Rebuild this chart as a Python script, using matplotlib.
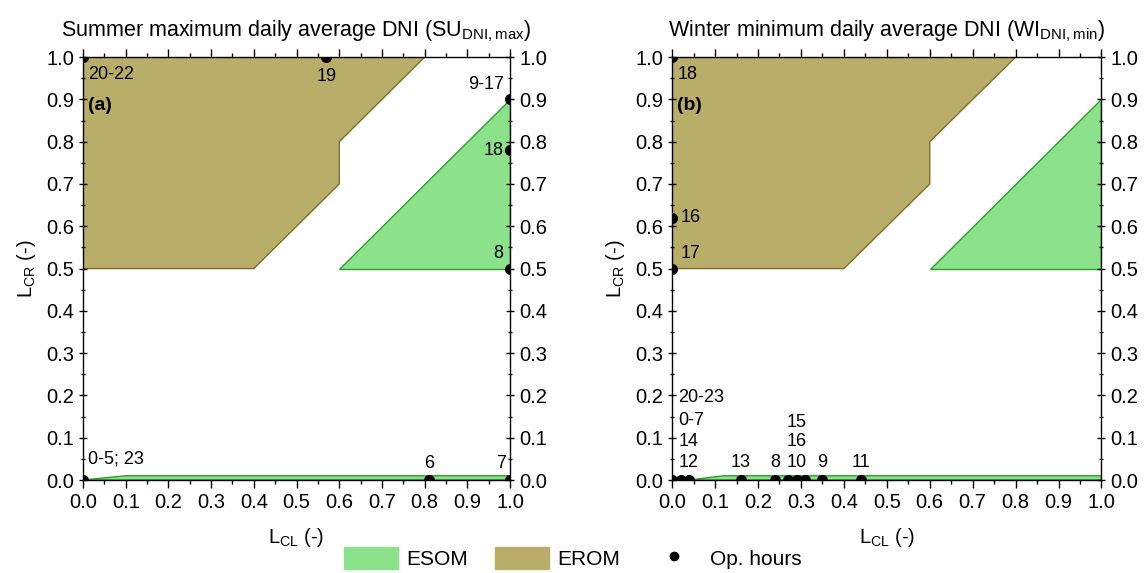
import matplotlib.pyplot as plt
from matplotlib.patches import Patch
from matplotlib.lines import Line2D

plt.rcParams['font.family'] = ['Liberation Sans', 'DejaVu Sans']
plt.rcParams['mathtext.fontset'] = 'custom'
plt.rcParams['mathtext.rm'] = 'Liberation Sans'

# operating regions (L_CL, L_CR)
erom_x = [0.0, 0.4, 0.6, 0.6, 0.8, 0.0]
erom_y = [0.5, 0.5, 0.7, 0.8, 1.0, 1.0]
esom_x = [0.6, 1.0, 1.0]
esom_y = [0.5, 0.5, 0.9]
strip_a_x = [0.0, 0.1, 1.0, 1.0]
strip_a_y = [0.0, 0.01, 0.01, 0.0]
strip_b_x = [0.04, 0.12, 1.0, 1.0]
strip_b_y = [0.0, 0.01, 0.01, 0.0]

# operating hours, summer
pts_a_x = [0.0, 0.57, 1.0, 1.0, 1.0, 0.0, 0.81, 1.0]
pts_a_y = [1.0, 1.0, 0.9, 0.78, 0.5, 0.0, 0.0, 0.0]
lab_a = ["20-22", "19", "9-17", "18", "8", "0-5; 23", "6", "7"]
lab_a_x = [0.012, 0.57, 0.985, 0.985, 0.985, 0.012, 0.81, 0.99]
lab_a_y = [0.96, 0.955, 0.935, 0.78, 0.535, 0.05, 0.04, 0.04]
lab_a_ha = ["left", "center", "right", "right", "right", "left", "center", "right"]

# operating hours, winter
pts_b_x = [0.0, 0.0, 0.0, 0.0, 0.02, 0.04, 0.16, 0.24, 0.27, 0.29, 0.31, 0.35, 0.44]
pts_b_y = [1.0, 0.62, 0.5, 0, 0, 0, 0, 0, 0, 0, 0, 0, 0]
lab_b = ["18", "16", "17", "20-23", "0-7", "14", "12", "13", "8", "15", "16", "10", "9", "11"]
lab_b_x = [0.012, 0.02, 0.02, 0.015, 0.015, 0.015, 0.015, 0.16, 0.24, 0.29, 0.29, 0.29, 0.35, 0.44]
lab_b_y = [0.96, 0.62, 0.535, 0.196, 0.14, 0.09, 0.042, 0.042, 0.042, 0.135, 0.09, 0.042, 0.042, 0.042]
lab_b_ha = ["left", "left", "left", "left", "left", "left", "left",
            "center", "center", "center", "center", "center", "center", "center"]

ESOM_C = "#8be28b"
ESOM_E = "#2e9e2e"
EROM_C = "#b9ae69"
EROM_E = "#7b6f2b"

fig = plt.figure(figsize=(11.45, 5.73), dpi=100)
ax_a = fig.add_axes([0.0725, 0.1623, 0.373, 0.738])
ax_b = fig.add_axes([0.587, 0.1623, 0.375, 0.738])


def draw(ax, title, tag, sx, sy, px, py, lx, ly, lt, lha):
    ax.fill(erom_x, erom_y, facecolor=EROM_C, edgecolor=EROM_E, lw=1, zorder=1)
    ax.fill(esom_x, esom_y, facecolor=ESOM_C, edgecolor=ESOM_E, lw=1, zorder=1)
    ax.fill(sx, sy, facecolor=ESOM_C, edgecolor=ESOM_E, lw=1, zorder=1)
    ax.plot(px, py, 'o', color='black', ms=7, ls='none', zorder=3)
    for x, y, t, h in zip(lx, ly, lt, lha):
        ax.text(x, y, t, ha=h, va='center', fontsize=13, zorder=4)
    ax.text(0.012, 0.885, tag, fontsize=14, fontweight='bold', va='center')
    ax.set_xlim(0, 1)
    ax.set_ylim(0, 1)
    ticks = [i / 10 for i in range(11)]
    ax.set_xticks(ticks)
    ax.set_yticks(ticks)
    ax.set_xticklabels([f"{t:.1f}" for t in ticks])
    ax.set_yticklabels([f"{t:.1f}" for t in ticks])
    ax.set_xticks([i / 20 for i in range(21)], minor=True)
    ax.set_yticks([i / 20 for i in range(21)], minor=True)
    ax.tick_params(which='both', top=True, right=True, labelright=True,
                   labelsize=14.5, width=1)
    ax.tick_params(which='major', length=6)
    ax.tick_params(which='minor', length=3)
    ax.tick_params(axis='x', which='both', direction='out')
    ax.tick_params(axis='y', which='both', direction='inout')
    ax.set_title(title, fontsize=15.5, pad=15)
    ax.set_xlabel(r"L$_{\mathrm{CL}}$ (-)", fontsize=14.5, labelpad=10)
    ax.set_ylabel(r"L$_{\mathrm{CR}}$ (-)", fontsize=14.5, labelpad=6)
    for s in ax.spines.values():
        s.set_linewidth(1)


draw(ax_a, r"Summer maximum daily average DNI (SU$_{\mathrm{DNI,max}}$)", "(a)",
     strip_a_x, strip_a_y, pts_a_x, pts_a_y, lab_a_x, lab_a_y, lab_a, lab_a_ha)
draw(ax_b, r"Winter minimum daily average DNI (WI$_{\mathrm{DNI,min}}$)", "(b)",
     strip_b_x, strip_b_y, pts_b_x, pts_b_y, lab_b_x, lab_b_y, lab_b, lab_b_ha)

handles = [Patch(facecolor=ESOM_C, edgecolor=ESOM_C, label="ESOM"),
           Patch(facecolor=EROM_C, edgecolor=EROM_C, label="EROM"),
           Line2D([], [], marker='o', color='black', ls='none', ms=6, label="Op. hours")]
fig.legend(handles=handles, loc='center', bbox_to_anchor=(0.5, 0.026), ncol=3,
           frameon=False, fontsize=15, handlelength=2.6, handleheight=1.2,
           handletextpad=0.4, columnspacing=1.3)

fig.savefig("out.png", dpi=100)
